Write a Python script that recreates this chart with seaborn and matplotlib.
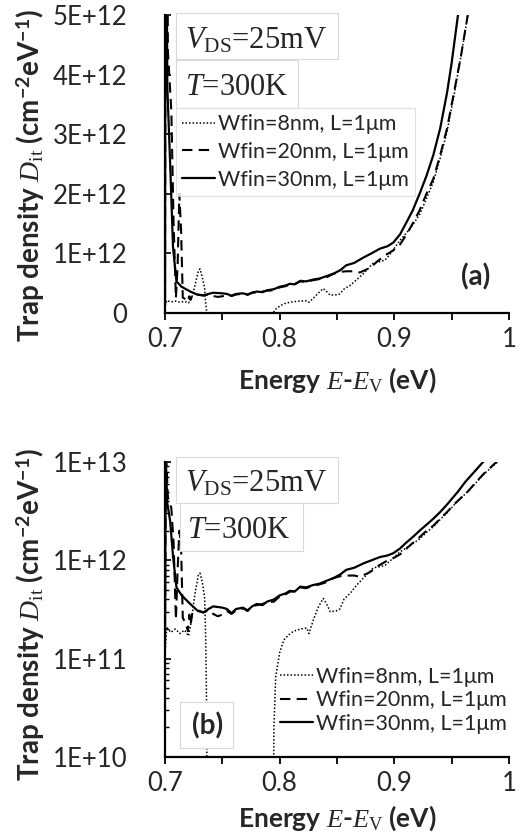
import matplotlib
matplotlib.use('Agg')
import matplotlib.pyplot as plt
import matplotlib.patches as patches
from matplotlib.ticker import FixedLocator, MultipleLocator, NullFormatter, LogLocator
import seaborn as sns

# Wfin = 8 nm
e_8 = [0.7002, 0.7015, 0.7050, 0.7090, 0.7130, 0.7170, 0.7205, 0.7230, 0.7260, 0.7290,
       0.7305, 0.7325, 0.7345, 0.7355, 0.7363, 0.7370, 0.7940, 0.7950, 0.7965, 0.8000,
       0.8036, 0.8080, 0.8120, 0.8180, 0.8236, 0.8255, 0.8300, 0.8340, 0.8380, 0.8415,
       0.8440, 0.8490, 0.8526, 0.8560, 0.8620, 0.8672, 0.8730, 0.8817, 0.8870, 0.8920,
       0.8960, 0.9050, 0.9140, 0.9220, 0.9280, 0.9340, 0.9400, 0.9460, 0.9520, 0.9580,
       0.9650, 0.9720, 0.9790, 0.9920]
d_8 = [1.2e11, 2.1e11, 1.85e11, 2.0e11, 1.8e11, 1.95e11, 1.7e11, 2.4e11, 4.5e11, 7.0e11,
       7.4e11, 6.0e11, 4.2e11, 1.6e11, 3e10, 1e9, 1e9, 2e10, 6.5e10, 1.15e11,
       1.55e11, 1.75e11, 1.9e11, 2.0e11, 2.05e11, 1.8e11, 2.6e11, 3.4e11, 4.1e11, 3.5e11,
       3.0e11, 3.05e11, 3.2e11, 4.0e11, 4.7e11, 5.6e11, 6.6e11, 8.4e11, 8.6e11, 8.9e11,
       9.8e11, 1.22e12, 1.42e12, 1.65e12, 1.92e12, 2.2e12, 2.6e12, 3.05e12, 3.65e12, 4.3e12,
       5.1e12, 6.3e12, 7.7e12, 1.05e13]

# Wfin = 20 nm
e_20 = [0.7000, 0.7008, 0.7025, 0.7055, 0.7075, 0.7095, 0.7110, 0.7125, 0.7140, 0.7155,
        0.7180, 0.7200, 0.7212, 0.7222, 0.7240, 0.7290, 0.7335, 0.7380, 0.7420, 0.7460,
        0.7500, 0.7540, 0.7580, 0.7620, 0.7680, 0.7720, 0.7760, 0.7800, 0.7850, 0.7890,
        0.7950, 0.8000, 0.8050, 0.8090, 0.8130, 0.8180, 0.8230, 0.8290, 0.8350, 0.8410,
        0.8470, 0.8530, 0.8580, 0.8650, 0.8700, 0.8790, 0.8860, 0.8930, 0.8990, 0.9050,
        0.9100, 0.9160, 0.9220, 0.9280, 0.9340, 0.9400, 0.9460, 0.9520, 0.9580, 0.9640,
        0.9710, 0.9780, 0.9910]
d_20 = [2.0e11, 1.3e13, 4.4e12, 3.4e12, 1.5e12, 2.5e11, 8e11, 2.0e12, 1.4e12, 2.6e11,
        2.3e11, 1.9e11, 2.8e11, 2.2e11, 3.0e11, 3.05e11, 2.95e11, 3.1e11, 2.85e11, 2.7e11,
        2.8e11, 3.05e11, 2.85e11, 3.1e11, 3.25e11, 3.05e11, 3.4e11, 3.5e11, 3.6e11, 3.75e11,
        3.8e11, 4.3e11, 4.5e11, 4.8e11, 4.85e11, 5.3e11, 5.2e11, 5.5e11, 5.7e11, 6.0e11,
        6.6e11, 6.9e11, 7.0e11, 7.0e11, 6.8e11, 7.6e11, 8.8e11, 9.8e11, 1.05e12, 1.15e12,
        1.3e12, 1.5e12, 1.72e12, 2.0e12, 2.25e12, 2.65e12, 3.1e12, 3.7e12, 4.3e12, 5.0e12,
        6.2e12, 7.6e12, 1.05e13]

# Wfin = 30 nm
e_30 = [0.7000, 0.7006, 0.7012, 0.7020, 0.7045, 0.7070, 0.7100, 0.7145, 0.7220, 0.7280,
        0.7335, 0.7380, 0.7420, 0.7460, 0.7500, 0.7540, 0.7580, 0.7620, 0.7680, 0.7720,
        0.7760, 0.7800, 0.7850, 0.7890, 0.7950, 0.8000, 0.8050, 0.8090, 0.8130, 0.8180,
        0.8230, 0.8290, 0.8350, 0.8410, 0.8470, 0.8530, 0.8580, 0.8650, 0.8730, 0.8800,
        0.8875, 0.8940, 0.8990, 0.9050, 0.9100, 0.9160, 0.9220, 0.9280, 0.9340, 0.9400,
        0.9460, 0.9500, 0.9555, 0.9620, 0.9700, 0.9790]
d_30 = [1.5e11, 1.4e13, 7.0e12, 3.8e12, 2.5e12, 1.1e12, 5.3e11, 4.4e11, 3.6e11, 3.1e11,
        2.95e11, 3.2e11, 3.4e11, 3.35e11, 3.3e11, 3.2e11, 2.9e11, 3.2e11, 3.3e11, 3.1e11,
        3.4e11, 3.6e11, 3.5e11, 3.8e11, 4.0e11, 4.4e11, 4.6e11, 4.9e11, 4.8e11, 5.4e11,
        5.3e11, 5.6e11, 5.8e11, 6.2e11, 6.6e11, 7.2e11, 8.0e11, 8.4e11, 9.3e11, 1.0e12,
        1.08e12, 1.12e12, 1.18e12, 1.32e12, 1.5e12, 1.72e12, 2.0e12, 2.3e12, 2.65e12, 3.1e12,
        3.7e12, 4.2e12, 5.0e12, 6.3e12, 8.0e12, 1.05e13]

labels = ['Wfin=8nm, L=1\u03bcm', 'Wfin=20nm, L=1\u03bcm', 'Wfin=30nm, L=1\u03bcm']
lin_ticks = [0, 1e12, 2e12, 3e12, 4e12, 5e12]
lin_labels = ['0', '1E+12', '2E+12', '3E+12', '4E+12', '5E+12']
log_ticks = [1e10, 1e11, 1e12, 1e13]
log_labels = ['1E+10', '1E+11', '1E+12', '1E+13']
x_ticks = [0.7, 0.8, 0.9, 1.0]
x_labels = ['0.7', '0.8', '0.9', '1']

sns.set_theme(style='white')
plt.rcParams['font.family'] = ['Lato', 'DejaVu Sans']
plt.rcParams['mathtext.fontset'] = 'custom'
plt.rcParams['mathtext.rm'] = 'Liberation Serif'
plt.rcParams['mathtext.it'] = 'Liberation Serif:italic'
plt.rcParams['mathtext.bf'] = 'Lato:bold'
plt.rcParams['ytick.direction'] = 'in'
plt.rcParams['xtick.direction'] = 'out'

fig = plt.figure(figsize=(5.26, 8.38), dpi=100)
ax1 = fig.add_axes([0.3137, 0.6265, 0.654, 0.3556])
ax2 = fig.add_axes([0.3137, 0.0967, 0.654, 0.352])

styles = [dict(lw=1.1, linestyle=(0, (1, 1.3))),
          dict(lw=1.5, linestyle=(0, (5, 3))),
          dict(lw=1.6, linestyle='-')]
series = [(e_8, d_8), (e_20, d_20), (e_30, d_30)]

tick_fs = 18.5
leg_fs = 15.5


def draw_panel(ax, log):
    for (e, d), st, lab in zip(series, styles, labels):
        sns.lineplot(x=e, y=d, ax=ax, color='black', label=lab,
                     estimator=None, sort=False, **st)
    ax.set_xlim(0.7, 1.0)
    if log:
        ax.set_yscale('log')
        ax.set_ylim(1e10, 1e13)
        ax.yaxis.set_major_locator(FixedLocator(log_ticks))
        ax.set_yticklabels(log_labels)
        ax.yaxis.set_minor_locator(LogLocator(base=10, subs=range(2, 10)))
        ax.yaxis.set_minor_formatter(NullFormatter())
    else:
        ax.set_ylim(0, 5e12)
        ax.yaxis.set_major_locator(FixedLocator(lin_ticks))
        ax.set_yticklabels(lin_labels)
    ax.xaxis.set_major_locator(FixedLocator(x_ticks))
    ax.set_xticklabels(x_labels)
    ax.xaxis.set_minor_locator(MultipleLocator(0.05))
    ax.tick_params(axis='x', which='both', direction='out', length=5, width=1.3,
                   bottom=True, labelsize=tick_fs, pad=5, color='black')
    ax.tick_params(axis='y', which='major', direction='in', length=4, width=1.2,
                   left=True, labelsize=tick_fs, pad=27, color='black')
    ax.tick_params(axis='y', which='minor', direction='in', length=3, width=1.0,
                   left=True, color='black')
    for s in ['top', 'right']:
        ax.spines[s].set_visible(False)
    for s in ['left', 'bottom']:
        ax.spines[s].set_color('black')
        ax.spines[s].set_linewidth(1.6)
    ax.set_xlabel('')
    ax.set_ylabel('')


def add_box(ax, x0, y0, x1, y1):
    ax.add_patch(patches.Rectangle((x0, y0), x1 - x0, y1 - y0, transform=ax.transAxes,
                                   facecolor='white', edgecolor='#d9d9d9', lw=0.8,
                                   clip_on=False, zorder=5))


draw_panel(ax1, False)
draw_panel(ax2, True)

# panel (a) annotations
add_box(ax1, 0.032, 0.852, 0.503, 1.007)
add_box(ax1, 0.032, 0.688, 0.387, 0.849)
ax1.text(0.058, 0.889, r'$V_{\mathrm{DS}}$=25mV', transform=ax1.transAxes,
         fontsize=22, family='Liberation Serif', va='baseline', ha='left', zorder=6)
ax1.text(0.058, 0.732, r'$T$=300K', transform=ax1.transAxes,
         fontsize=22, family='Liberation Serif', va='baseline', ha='left', zorder=6)
ax1.text(0.904, 0.121, '(a)', transform=ax1.transAxes, fontsize=20,
         fontweight='bold', ha='center', va='center')
leg1 = ax1.legend(loc='upper left', bbox_to_anchor=(0.032, 0.688), borderaxespad=0,
                  fontsize=leg_fs, frameon=True, fancybox=False, handlelength=1.5,
                  handletextpad=0.15, labelspacing=0.35, borderpad=0.3)
leg1.get_frame().set_edgecolor('#d9d9d9')
leg1.get_frame().set_linewidth(0.8)
leg1.set_zorder(6)

# panel (b) annotations
add_box(ax2, 0.032, 0.861, 0.503, 1.017)
add_box(ax2, 0.044, 0.698, 0.401, 0.861)
add_box(ax2, 0.044, 0.031, 0.198, 0.186)
ax2.text(0.058, 0.899, r'$V_{\mathrm{DS}}$=25mV', transform=ax2.transAxes,
         fontsize=22, family='Liberation Serif', va='baseline', ha='left', zorder=6)
ax2.text(0.063, 0.741, r'$T$=300K', transform=ax2.transAxes,
         fontsize=22, family='Liberation Serif', va='baseline', ha='left', zorder=6)
ax2.text(0.1235, 0.105, '(b)', transform=ax2.transAxes, fontsize=20,
         fontweight='bold', ha='center', va='center', zorder=6)
leg2 = ax2.legend(loc='upper left', bbox_to_anchor=(0.335, 0.305), borderaxespad=0,
                  fontsize=leg_fs, frameon=False, handlelength=1.5,
                  handletextpad=0.15, labelspacing=0.16, borderpad=0)

ylab = r'Trap density $D_{\mathrm{it}}$ (cm$^{\mathbf{-2}}$eV$^{\mathbf{-1}}$)'
xlab = r'Energy $E$-$E_{\mathrm{V}}$ (eV)'
for yc, xc in [(176, 380), (615, 818)]:
    fig.text(31 / 526, 1 - yc / 838, ylab, rotation=90, ha='center', va='center',
             fontsize=20, fontweight='bold')
    fig.text(337 / 526, 1 - xc / 838, xlab, ha='center', va='center',
             fontsize=19, fontweight='bold')

fig.savefig('out.png', dpi=100)
